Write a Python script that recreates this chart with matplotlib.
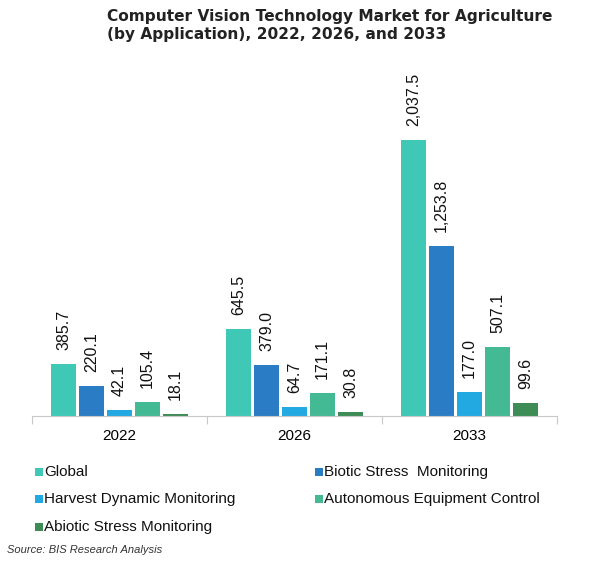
import numpy as np
import matplotlib.pyplot as plt
from matplotlib.patches import Patch

# ---------- data ----------
years = ["2022", "2026", "2033"]
series = [
    "Global",
    "Biotic Stress  Monitoring",
    "Harvest Dynamic Monitoring",
    "Autonomous Equipment Control",
    "Abiotic Stress Monitoring",
]
global_vals = [385.7, 645.5, 2037.5]
biotic_vals = [220.1, 379.0, 1253.8]
harvest_vals = [42.1, 64.7, 177.0]
autonomous_vals = [105.4, 171.1, 507.1]
abiotic_vals = [18.1, 30.8, 99.6]
colors = ["#3ec8b5", "#2a7dc4", "#22a9e1", "#43b994", "#3d8c55"]

values = [global_vals, biotic_vals, harvest_vals, autonomous_vals, abiotic_vals]

plt.rcParams["font.family"] = ["Liberation Sans", "DejaVu Sans"]

fig = plt.figure(figsize=(5.9, 5.63), dpi=100)
W, H = 590, 563
# axes from x=32..557 px, baseline at y=416, scale: 2037.5 -> 276 px
top_px = 77
ax = fig.add_axes([32 / W, 1 - 416 / H, (557 - 32) / W, (416 - top_px) / H])
ymax = 2037.5 * (416 - top_px) / 276

x = np.arange(len(years))
slot = 0.8 / 5
bar_w = slot * 25 / 28
for i, (name, vals) in enumerate(zip(series, values)):
    xs = x - 0.4 + slot * (i + 0.5)
    ax.bar(xs, vals, width=bar_w, color=colors[i], label=name, zorder=2)
    for xi, v in zip(xs, vals):
        ax.annotate(
            f"{v:,.1f}",
            (xi, v),
            xytext=(0, 10),
            textcoords="offset points",
            rotation=90,
            ha="center",
            va="bottom",
            fontsize=11.5,
            color="#111111",
            annotation_clip=False,
        )

ax.set_xlim(-0.5, 2.5)
ax.set_ylim(0, ymax)
ax.set_yticks([])
for s in ["left", "right", "top"]:
    ax.spines[s].set_visible(False)
ax.spines["bottom"].set_color("#c8c8c8")
ax.set_xticks([-0.5, 0.5, 1.5, 2.5], minor=False)
ax.set_xticklabels([])
ax.tick_params(axis="x", which="major", length=6, color="#c8c8c8")
ax.set_xticks(x, minor=True)
ax.set_xticklabels(years, minor=True, fontsize=11)
ax.tick_params(axis="x", which="minor", length=0, pad=9)

# title
fig.text(
    107 / W,
    1 - 9 / H,
    "Computer Vision Technology Market for Agriculture\n(by Application), 2022, 2026, and 2033",
    ha="left",
    va="top",
    fontsize=11.1,
    fontweight="bold",
    family="DejaVu Sans",
    color="#222222",
    linespacing=1.25,
)

# legend
handles = [Patch(facecolor=c, edgecolor="none") for c in colors]
leg_pos = [(35, 472), (315, 472), (35, 499), (315, 499), (35, 527)]
for (px, py), h, name in zip(leg_pos, handles, series):
    fig.patches.append(
        plt.Rectangle(
            (px / W, 1 - (py + 4) / H),
            8 / W,
            8 / H,
            transform=fig.transFigure,
            facecolor=h.get_facecolor(),
            edgecolor="none",
        )
    )
    fig.text((px + 9) / W, 1 - py / H, name, ha="left", va="center", fontsize=11, color="#111111")

fig.text(
    7 / W,
    1 - 550 / H,
    "Source: BIS Research Analysis",
    ha="left",
    va="center",
    fontsize=8,
    style="italic",
    color="#333333",
)

plt.savefig("out.png", dpi=100)
